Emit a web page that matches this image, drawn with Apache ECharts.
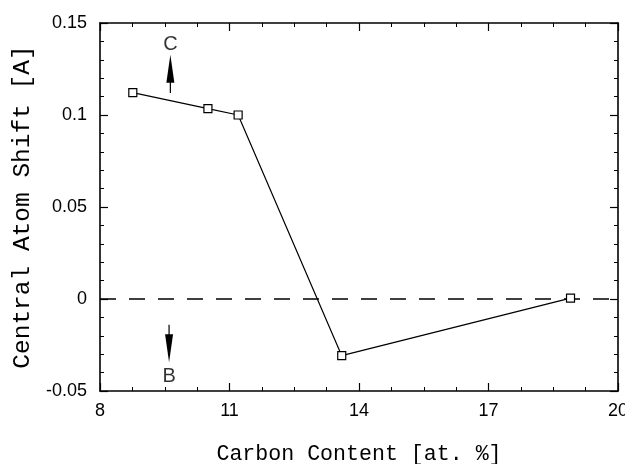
<!DOCTYPE html>
<html>
<head>
<meta charset="utf-8">
<script src="https://cdn.jsdelivr.net/npm/echarts@6/dist/echarts.min.js"></script>
<style>html,body{margin:0;padding:0;background:#fff}#c{width:625px;height:464px}</style>
</head>
<body>
<div id="c"></div>
<script>
var carbon = [8.76, 10.5, 11.2, 13.6, 18.9];
var shift = [0.1122, 0.1035, 0.1, -0.0308, 0.0005];
var zeroLineX = [8, 20];
var zeroLineY = [0, 0];
var arrowC = [[9.63, 0.112], [9.63, 0.1252]];
var arrowB = [[9.6, -0.014], [9.6, -0.0267]];
var labelC = [9.63, 0.1382];
var labelB = [9.6, -0.0422];
var xTitle = 'Carbon Content [at. %]';
var yTitle = 'Central Atom Shift [A]';

var chart = echarts.init(document.getElementById('c'));
var axisLineStyle = {color: '#000', width: 1.6};
var tickFont = {color: '#000', fontFamily: 'Liberation Sans', fontSize: 18};
var titleFont = 'Liberation Mono';

function mirrorAxis(pos, isX) {
  return {
    type: 'value', position: pos, min: isX ? 8 : -0.05, max: isX ? 20 : 0.15, interval: isX ? 3 : 0.05,
    gridIndex: 0,
    axisLine: {show: true, onZero: false, lineStyle: axisLineStyle},
    axisTick: {show: true, inside: true, length: 8, lineStyle: {color: '#000', width: 1.2}},
    minorTick: {show: true, splitNumber: isX ? 4 : 5, length: 4, lineStyle: {color: '#000', width: 1}},
    axisLabel: {show: false}, splitLine: {show: false}
  };
}

var xMain = mirrorAxis('bottom', true);
xMain.axisLabel = Object.assign({show: true, margin: 11}, tickFont);
xMain.name = xTitle;
xMain.nameLocation = 'middle';
xMain.nameGap = 52;
xMain.nameTextStyle = {color: '#000', fontFamily: titleFont, fontSize: 21.6};

var yMain = mirrorAxis('left', false);
yMain.axisLabel = Object.assign({show: true, margin: 13}, tickFont);
yMain.name = yTitle;
yMain.nameLocation = 'middle';
yMain.nameGap = 64;
yMain.nameRotate = 90;
yMain.nameTextStyle = {color: '#000', fontFamily: titleFont, fontSize: 24.5};

var option = {
  animation: false,
  backgroundColor: '#fff',
  grid: {left: 100, right: 7, top: 23, bottom: 73, containLabel: false, outerBoundsMode: 'none'},
  xAxis: [xMain, mirrorAxis('top', true)],
  yAxis: [yMain, mirrorAxis('right', false)],
  series: [
    {
      type: 'line', xAxisIndex: 0, yAxisIndex: 0,
      data: zeroLineX.map(function (x, i) { return [x, zeroLineY[i]]; }),
      showSymbol: false, silent: true,
      lineStyle: {color: '#000', width: 1.3, type: [16, 13]}
    },
    {
      type: 'line', xAxisIndex: 0, yAxisIndex: 0,
      data: carbon.map(function (x, i) { return [x, shift[i]]; }),
      symbol: 'rect', symbolSize: 8, showSymbol: true,
      itemStyle: {color: '#fff', borderColor: '#000', borderWidth: 1.2},
      lineStyle: {color: '#000', width: 1.2}, z: 5
    },
    {
      type: 'line', xAxisIndex: 0, yAxisIndex: 0,
      data: [{value: arrowC[0], symbol: 'none'}, {value: arrowC[1], symbol: 'triangle', symbolSize: [8, 28]}],
      showSymbol: true, itemStyle: {color: '#000'}, lineStyle: {color: '#000', width: 1.2}
    },
    {
      type: 'line', xAxisIndex: 0, yAxisIndex: 0,
      data: [{value: arrowB[0], symbol: 'none'}, {value: arrowB[1], symbol: 'triangle', symbolSize: [8, 28], symbolRotate: 180}],
      showSymbol: true, itemStyle: {color: '#000'}, lineStyle: {color: '#000', width: 1.2}
    },
    {
      type: 'scatter', xAxisIndex: 0, yAxisIndex: 0, symbolSize: 0,
      data: [{name: 'C', value: labelC}, {name: 'B', value: labelB}],
      label: {show: true, position: 'inside', formatter: '{b}', color: '#000', fontFamily: 'Liberation Sans', fontSize: 20}
    }
  ]
};
chart.setOption(option);
</script>
</body>
</html>
